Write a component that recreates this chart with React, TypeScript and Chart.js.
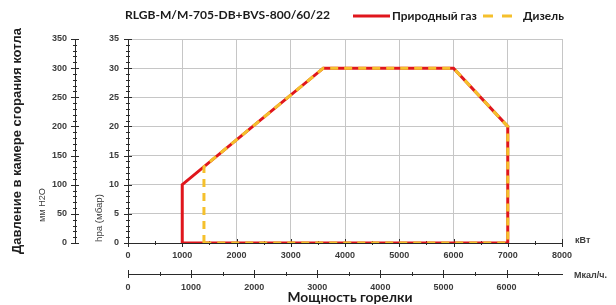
import React, { useEffect, useRef } from "react";
import { Chart, registerables } from "chart.js";

Chart.register(...registerables);

// ---- data ----
const chartTitle = "RLGB-M/M-705-DB+BVS-800/60/22";
const gasLabel = "Природный газ";
const dieselLabel = "Дизель";
const gasKw = [1000, 1000, 3600, 6000, 7000, 7000, 1000];
const gasHpa = [0, 10, 30, 30, 20, 0, 0];
const dieselKw = [1400, 1400, 3600, 6000, 7000, 7000, 1400];
const dieselHpa = [0, 13.1, 30, 30, 20, 0, 0];
const kwRange = [0, 8000];
const kwStep = 1000;
const kwMinor = 500;
const hpaRange = [0, 35];
const hpaStep = 5;
const hpaMinor = 1;
const mmRange = [0, 350];
const mmStep = 50;
const mmMinor = 10;
const kwPerMcal = 1.163;
const mcalTicks = [0, 1000, 2000, 3000, 4000, 5000, 6000];
const mcalStep = 1000;
const mcalMinor = 500;
const yTitle = "Давление в камере сгорания котла";
const mmTitle = "мм H2O";
const hpaTitle = "hpa (мбар)";
const kwUnit = "кВт";
const mcalUnit = "Мкал/ч.";
const xTitle = "Мощность горелки";

const RED = "#e0161c";
const YELLOW = "#f5c02c";
const GRID = "#c6c6c6";
const AXIS = "#2a2a2a";
const TXT = "#3c3c3c";
const TICKFONT = "'Liberation Sans', Arial, sans-serif";
const CAL = "Lato, 'Open Sans', sans-serif";

function fit(ctx: CanvasRenderingContext2D, text: string, weight: string, family: string, target: number) {
  ctx.font = `${weight} 20px ${family}`;
  const w = ctx.measureText(text).width;
  const size = (20 * target) / w;
  ctx.font = `${weight} ${size}px ${family}`;
  return size;
}

function drawAxisTicks(ctx: CanvasRenderingContext2D, scale: any, major: number, minor: number, vertical: boolean) {
  ctx.save();
  ctx.strokeStyle = AXIS;
  ctx.lineWidth = 1;
  for (let v = scale.min; v <= scale.max + 1e-6; v += minor) {
    const isMajor = Math.abs(v / major - Math.round(v / major)) < 1e-6;
    const len = isMajor ? 4 : 2;
    const p = Math.round(scale.getPixelForValue(v)) + 0.5;
    ctx.beginPath();
    if (vertical) {
      const x = scale.right;
      ctx.moveTo(x - len, p);
      ctx.lineTo(x + len, p);
    } else {
      const y = scale.top;
      ctx.moveTo(p, y - len);
      ctx.lineTo(p, y + len);
    }
    ctx.stroke();
  }
  ctx.restore();
}

const decorPlugin = {
  id: "decor",
  beforeDatasetsDraw(chart: any) {
    const ctx = chart.ctx as CanvasRenderingContext2D;
    const s = chart.scales;
    drawAxisTicks(ctx, s.y, hpaStep, hpaMinor, true);
    drawAxisTicks(ctx, s.y2, mmStep, mmMinor, true);
    drawAxisTicks(ctx, s.x, kwStep, kwMinor, false);
    drawAxisTicks(ctx, s.x2, mcalStep, mcalMinor, false);
  },
  afterDraw(chart: any) {
    const ctx = chart.ctx as CanvasRenderingContext2D;
    ctx.save();
    ctx.fillStyle = "#1a1a1a";
    ctx.textBaseline = "middle";

    // title
    ctx.textAlign = "left";
    fit(ctx, chartTitle, "bold", CAL, 205);
    ctx.fillText(chartTitle, 125, 15);

    // legend
    ctx.lineWidth = 3;
    ctx.strokeStyle = RED;
    ctx.beginPath();
    ctx.moveTo(353, 16);
    ctx.lineTo(390, 16);
    ctx.stroke();
    const lsize = fit(ctx, gasLabel, "bold", CAL, 85);
    ctx.fillText(gasLabel, 392, 16);
    ctx.strokeStyle = YELLOW;
    ctx.beginPath();
    ctx.moveTo(483, 16);
    ctx.lineTo(493, 16);
    ctx.moveTo(502, 16);
    ctx.lineTo(512, 16);
    ctx.stroke();
    ctx.font = `bold ${lsize}px ${CAL}`;
    ctx.fillText(dieselLabel, 523, 16);

    // rotated left titles
    const rot = (text: string, cx: number, cy: number, weight: string, family: string, w: number) => {
      ctx.save();
      ctx.translate(cx, cy);
      ctx.rotate(-Math.PI / 2);
      ctx.textAlign = "center";
      fit(ctx, text, weight, family, w);
      ctx.fillText(text, 0, 0);
      ctx.restore();
    };
    ctx.fillStyle = "#202020";
    rot(yTitle, 17, 141, "bold", TICKFONT, 226);
    ctx.fillStyle = TXT;
    rot(mmTitle, 42, 205, "normal", TICKFONT, 34);
    rot(hpaTitle, 99, 218, "normal", TICKFONT, 48);

    // units
    ctx.textAlign = "left";
    ctx.font = `bold 9px ${TICKFONT}`;
    ctx.fillText(kwUnit, 575, 241);
    ctx.fillText(mcalUnit, 574, 276);

    // bottom title
    ctx.fillStyle = "#1a1a1a";
    ctx.textAlign = "center";
    fit(ctx, xTitle, "bold", CAL, 125);
    ctx.fillText(xTitle, 350, 298);
    ctx.restore();
  },
};

const gridColor = (c: any) => (c.tick && c.tick.value === 0 ? "rgba(0,0,0,0)" : GRID);
const tickFont = { family: TICKFONT, size: 9, weight: "bold" as const };

export default function App() {
  const ref = useRef<HTMLCanvasElement | null>(null);
  useEffect(() => {
    document.body.style.margin = "0";
    const canvas = ref.current!;
    const chart = new Chart(canvas, {
      type: "line",
      data: {
        datasets: [
          {
            label: gasLabel,
            data: gasKw.map((x, i) => ({ x, y: gasHpa[i] })),
            borderColor: RED,
            backgroundColor: RED,
            borderWidth: 3,
            pointRadius: 0,
            tension: 0,
            fill: false,
            order: 2,
            xAxisID: "x",
            yAxisID: "y",
          },
          {
            label: dieselLabel,
            data: dieselKw.map((x, i) => ({ x, y: dieselHpa[i] })),
            borderColor: YELLOW,
            backgroundColor: YELLOW,
            borderWidth: 3,
            borderDash: [8, 6],
            pointRadius: 0,
            tension: 0,
            fill: false,
            order: 1,
            xAxisID: "x",
            yAxisID: "y",
          },
        ],
      },
      options: {
        animation: false,
        responsive: false,
        layout: { padding: { left: 0, right: 54, top: 39, bottom: 0 } },
        plugins: { legend: { display: false }, tooltip: { enabled: false }, title: { display: false } },
        scales: {
          x: {
            type: "linear",
            position: "bottom",
            min: kwRange[0],
            max: kwRange[1],
            weight: 0,
            ticks: { stepSize: kwStep, callback: (v: any) => String(v), font: tickFont, color: TXT, padding: 3, maxRotation: 0, autoSkip: false },
            grid: { color: gridColor, lineWidth: 1, tickLength: 4, tickColor: "rgba(0,0,0,0)" },
            border: { color: AXIS, width: 1 },
            afterFit: (s: any) => { s.height = 31; },
          },
          x2: {
            type: "linear",
            position: "bottom",
            min: 0,
            max: kwRange[1] / kwPerMcal,
            weight: 1,
            afterBuildTicks: (s: any) => { s.ticks = mcalTicks.map((value) => ({ value })); },
            ticks: { callback: (v: any) => String(v), font: tickFont, color: TXT, padding: 4, maxRotation: 0, autoSkip: false },
            grid: { drawOnChartArea: false, tickLength: 4, tickColor: "rgba(0,0,0,0)" },
            border: { color: AXIS, width: 1 },
            afterFit: (s: any) => { s.height = 31; },
          },
          y: {
            type: "linear",
            position: "left",
            min: hpaRange[0],
            max: hpaRange[1],
            weight: 0,
            ticks: { stepSize: hpaStep, callback: (v: any) => String(v), font: tickFont, color: TXT, padding: 5 },
            grid: { color: gridColor, lineWidth: 1, tickLength: 4, tickColor: "rgba(0,0,0,0)" },
            border: { color: AXIS, width: 1 },
            afterFit: (s: any) => { s.width = 53; },
          },
          y2: {
            type: "linear",
            position: "left",
            min: mmRange[0],
            max: mmRange[1],
            weight: 1,
            ticks: { stepSize: mmStep, callback: (v: any) => String(v), font: tickFont, color: TXT, padding: 4 },
            grid: { drawOnChartArea: false, tickLength: 4, tickColor: "rgba(0,0,0,0)" },
            border: { color: AXIS, width: 1 },
            afterFit: (s: any) => { s.width = 75; },
          },
        },
      } as any,
      plugins: [decorPlugin],
    });
    return () => chart.destroy();
  }, []);
  return (
    <div style={{ width: 616, height: 305, background: "#fff" }}>
      <canvas ref={ref} width={616} height={305} style={{ display: "block", width: 616, height: 305 }} />
    </div>
  );
}
